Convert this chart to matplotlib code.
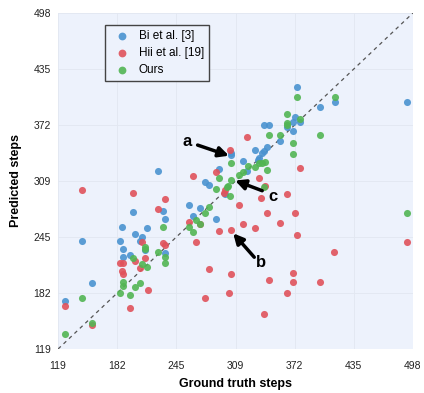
import numpy as np
import matplotlib
matplotlib.use('Agg')
import matplotlib.pyplot as plt

plt.rcParams['font.family'] = ['Liberation Sans', 'DejaVu Sans']

# axis range and tick labels
LO, HI = 119, 498
tick_labels = ['119', '182', '245', '309', '372', '435', '498']

# Bi et al. [3]  (ground truth, predicted)
bi_gt = [225.4, 199.4, 230.8, 233.2, 187.0, 214.3, 201.5, 208.4, 144.6, 185.2, 206.5, 188.7,
         303.4, 303.7, 316.2, 320.8, 290.4, 276.3, 280.5, 297.3, 259.2, 270.6, 262.8, 287.4,
         374.2, 414.4, 491.3, 398.4, 372.4, 377.4, 370.2, 339.2, 344.3, 363.5, 370.2, 356.3,
         342.1, 329.3, 336.5, 339.2, 333.6, 332.2, 211.9, 195.9, 188.7, 233.2, 155.6, 126.5]
bi_pred = [319.4, 273.2, 275.0, 265.3, 257.0, 255.1, 249.0, 245.0, 241.2, 241.2, 241.2, 232.0,
           340.6, 337.3, 331.4, 319.8, 321.5, 307.4, 303.6, 293.5, 281.1, 277.7, 269.4, 265.3,
           414.2, 397.6, 397.6, 391.6, 381.0, 375.4, 375.4, 371.7, 371.7, 369.1, 365.2, 353.6,
           347.2, 343.5, 340.4, 342.3, 334.1, 332.2, 230.7, 225.0, 223.1, 227.6, 193.1, 173.5]

# Hii et al. [19]
hii_gt = [144.6, 199.4, 233.2, 225.4, 230.8, 233.2, 262.8, 302.3, 320.8, 287.7, 297.3, 296.5,
          312.2, 259.2, 270.6, 316.2, 290.6, 303.4, 266.3, 333.6, 377.4, 340.3, 336.0, 363.2,
          342.1, 372.0, 329.3, 356.0, 374.2, 491.3, 414.0, 280.5, 303.4, 370.2, 344.3, 370.2,
          398.4, 276.3, 301.6, 363.2, 339.2, 208.4, 211.6, 185.2, 188.7, 201.5, 206.5, 187.3,
          188.7, 214.8, 126.5, 195.9, 155.6]
hii_pred = [298.4, 295.3, 288.2, 277.3, 238.9, 236.3, 314.5, 343.5, 358.5, 318.7, 298.4, 295.3,
            281.4, 262.6, 260.0, 260.0, 252.1, 252.9, 240.0, 311.5, 323.5, 303.2, 289.3, 293.8,
            272.7, 272.1, 255.1, 261.1, 247.3, 240.0, 228.1, 208.9, 203.9, 205.1, 196.8, 194.9,
            194.9, 176.9, 181.8, 181.8, 158.8, 239.4, 222.0, 216.3, 216.3, 218.3, 210.0, 207.0,
            203.3, 185.6, 167.8, 164.9, 146.1]

# Ours
ours_gt = [230.8, 211.9, 303.7, 290.6, 303.7, 316.2, 312.6, 287.4, 300.8, 299.1, 302.4, 280.2,
           276.3, 266.3, 270.6, 259.2, 262.8, 374.2, 414.4, 363.2, 377.4, 363.2, 363.8, 344.3,
           356.0, 398.4, 370.2, 370.2, 340.0, 336.5, 333.9, 321.5, 329.3, 342.1, 339.0, 491.3,
           211.9, 225.4, 233.2, 233.2, 199.4, 208.4, 214.3, 188.7, 188.0, 201.5, 206.5, 185.2,
           195.9, 144.6, 155.6, 126.5]
ours_pred = [257.0, 234.4, 328.5, 311.5, 309.6, 318.3, 315.3, 299.5, 302.9, 301.4, 291.0, 279.2,
             272.1, 264.5, 260.0, 257.0, 251.5, 402.9, 403.6, 384.1, 378.8, 374.3, 371.7, 360.7,
             360.7, 360.7, 351.7, 339.3, 329.6, 329.1, 328.5, 325.4, 324.6, 320.9, 302.1, 272.1,
             231.5, 228.8, 223.1, 215.7, 221.3, 214.5, 211.8, 194.9, 190.4, 188.6, 193.8, 181.8,
             179.9, 176.2, 148.3, 135.6]

# annotation letters: (label, text position, arrow tail, arrow tip)
notes = [('a', (256.7, 352.5), (268.0, 349.0), (301.5, 337.0)),
         ('c', (348.5, 290.5), (337.0, 297.5), (308.0, 309.0)),
         ('b', (335.7, 216.0), (328.5, 222.5), (306.0, 249.5))]

fig, ax = plt.subplots(figsize=(4.24, 3.93), dpi=100)
fig.subplots_adjust(left=0.137, right=0.974, bottom=0.112, top=0.967)
ax.set_facecolor('#EDF2FC')

ax.plot([LO, HI], [LO, HI], linestyle=(0, (3, 3)), color='#555555', lw=0.9, zorder=1)

ax.scatter(bi_gt, bi_pred, s=26, color='#4A93D0', alpha=0.9, lw=0, label='Bi et al. [3]', zorder=3)
ax.scatter(hii_gt, hii_pred, s=26, color='#E0525B', alpha=0.9, lw=0, label='Hii et al. [19]', zorder=3)
ax.scatter(ours_gt, ours_pred, s=26, color='#52B553', alpha=0.9, lw=0, label='Ours', zorder=3)

for lab, tpos, tail, tip in notes:
    ax.text(tpos[0], tpos[1], lab, fontsize=12, fontweight='bold', ha='center', va='center', zorder=5)
    ax.annotate('', xy=tip, xytext=tail,
                arrowprops=dict(arrowstyle='-|>', color='black', lw=2.5, mutation_scale=15,
                                shrinkA=0, shrinkB=0), zorder=5)

ticks = np.linspace(LO, HI, 7)
ax.set_xlim(LO, HI)
ax.set_ylim(LO, HI)
ax.set_xticks(ticks)
ax.set_xticklabels(tick_labels)
ax.set_yticks(ticks)
ax.set_yticklabels(tick_labels)
ax.tick_params(length=0, labelsize=7.5, colors='#222222')
ax.tick_params(axis='x', pad=9)
ax.tick_params(axis='y', pad=5)
ax.grid(True, color='#E2E7F1', lw=0.6)
ax.set_axisbelow(True)
for sp in ax.spines.values():
    sp.set_visible(False)

ax.set_xlabel('Ground truth steps', fontsize=9, fontweight='bold', labelpad=5)
ax.set_ylabel('Predicted steps', fontsize=9, fontweight='bold', labelpad=8)

leg = ax.legend(loc='upper left', bbox_to_anchor=(0.132, 0.964), borderaxespad=0,
                fontsize=8.5, frameon=True,
                fancybox=False, edgecolor='#444444', facecolor='#EDF2FC', framealpha=1,
                handletextpad=0.4, borderpad=0.45, labelspacing=0.4, markerscale=1.1)
leg.get_frame().set_linewidth(1.0)

fig.savefig('out.png', dpi=100)
